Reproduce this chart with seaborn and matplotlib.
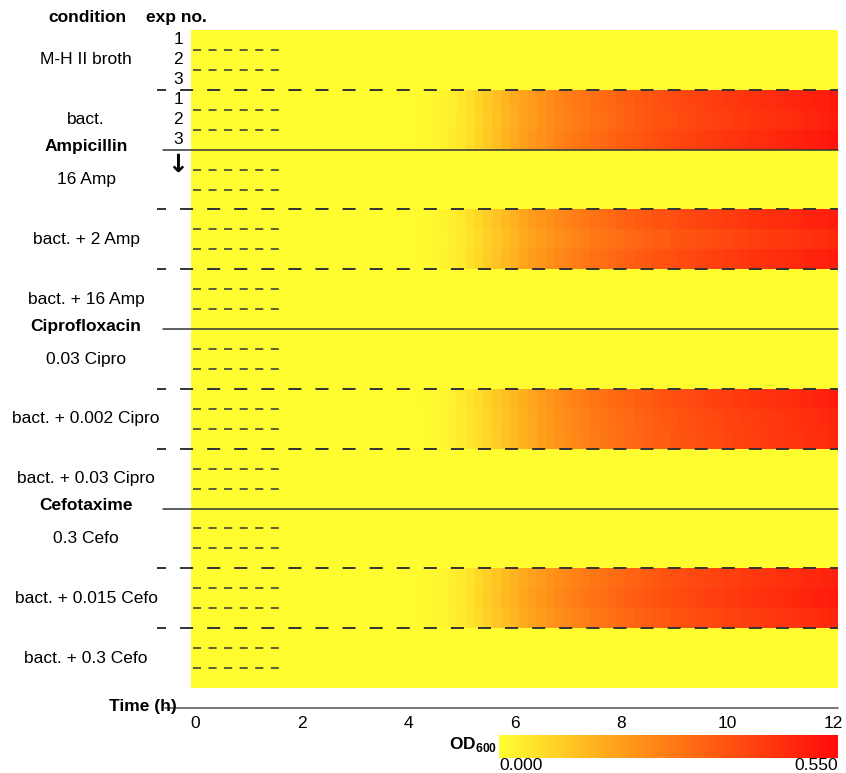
import numpy as np
import pandas as pd
import matplotlib.pyplot as plt
import seaborn as sns
from matplotlib.colors import LinearSegmentedColormap

# conditions top to bottom, three experiments (rows) each
conditions = ['M-H II broth', 'bact.', '16 Amp', 'bact. + 2 Amp', 'bact. + 16 Amp',
              '0.03 Cipro', 'bact. + 0.002 Cipro', 'bact. + 0.03 Cipro',
              '0.3 Cefo', 'bact. + 0.015 Cefo', 'bact. + 0.3 Cefo']
antibiotics = ['Ampicillin', 'Ciprofloxacin', 'Cefotaxime']
antibiotic_rows = [6, 15, 24]
time_labels = ['0', '2', '4', '6', '8', '10', '12']

# OD600 readings every 10 min, 0-4 h (shared lag phase)
lag_od = [0.005, 0.005, 0.005, 0.005, 0.005, 0.005, 0.006, 0.006, 0.006, 0.006,
          0.006, 0.006, 0.006, 0.007, 0.007, 0.007, 0.007, 0.007, 0.008, 0.008,
          0.008, 0.008, 0.008, 0.009, 0.009]
# 4:10 - 12:00 h
bact_growth = [0.010, 0.013, 0.018, 0.025, 0.036, 0.050, 0.067, 0.087, 0.108, 0.129,
               0.150, 0.170, 0.189, 0.207, 0.224, 0.240, 0.255, 0.269, 0.282, 0.294,
               0.306, 0.317, 0.328, 0.338, 0.348, 0.357, 0.366, 0.375, 0.383, 0.391,
               0.399, 0.406, 0.413, 0.420, 0.427, 0.434, 0.440, 0.447, 0.453, 0.459,
               0.465, 0.471, 0.477, 0.483, 0.489, 0.495, 0.503, 0.518]
amp_growth = [0.010, 0.012, 0.017, 0.024, 0.034, 0.047, 0.063, 0.081, 0.101, 0.121,
              0.141, 0.161, 0.180, 0.198, 0.215, 0.231, 0.246, 0.260, 0.274, 0.287,
              0.299, 0.310, 0.321, 0.331, 0.341, 0.350, 0.359, 0.368, 0.376, 0.384,
              0.392, 0.399, 0.406, 0.413, 0.420, 0.427, 0.433, 0.440, 0.446, 0.452,
              0.458, 0.464, 0.470, 0.476, 0.482, 0.488, 0.494, 0.504]
cipro_growth = [0.009, 0.011, 0.015, 0.021, 0.030, 0.041, 0.055, 0.071, 0.089, 0.108,
                0.127, 0.146, 0.165, 0.184, 0.202, 0.219, 0.235, 0.250, 0.264, 0.278,
                0.291, 0.303, 0.314, 0.325, 0.335, 0.345, 0.354, 0.363, 0.372, 0.380,
                0.388, 0.396, 0.403, 0.410, 0.417, 0.424, 0.431, 0.437, 0.443, 0.449,
                0.455, 0.461, 0.467, 0.473, 0.479, 0.485, 0.491, 0.500]
cefo_growth = [0.010, 0.012, 0.017, 0.023, 0.033, 0.046, 0.062, 0.080, 0.100, 0.120,
               0.140, 0.160, 0.179, 0.197, 0.214, 0.230, 0.245, 0.259, 0.273, 0.286,
               0.298, 0.310, 0.321, 0.332, 0.342, 0.352, 0.361, 0.370, 0.379, 0.387,
               0.395, 0.403, 0.410, 0.417, 0.424, 0.431, 0.438, 0.444, 0.450, 0.456,
               0.462, 0.468, 0.474, 0.480, 0.486, 0.492, 0.498, 0.507]

growth = {'bact.': bact_growth, 'bact. + 2 Amp': amp_growth,
          'bact. + 0.002 Cipro': cipro_growth, 'bact. + 0.015 Cefo': cefo_growth}
rep_factor = {'bact.': [1.0, 0.98, 1.02], 'bact. + 2 Amp': [1.0, 0.94, 1.0],
              'bact. + 0.002 Cipro': [1.0, 0.96, 0.95], 'bact. + 0.015 Cefo': [0.97, 1.0, 0.95]}
# flat OD of wells without growth
blank_od = {'M-H II broth': [0.004, 0.005, 0.004], '16 Amp': [0.006, 0.005, 0.006],
            'bact. + 16 Amp': [0.006, 0.007, 0.006], '0.03 Cipro': [0.005, 0.006, 0.005],
            'bact. + 0.03 Cipro': [0.007, 0.006, 0.007], '0.3 Cefo': [0.005, 0.006, 0.006],
            'bact. + 0.3 Cefo': [0.007, 0.008, 0.007]}

rows = []
for cond in conditions:
    for r in range(3):
        if cond in growth:
            rows.append(np.array(lag_od + growth[cond]) * rep_factor[cond][r])
        else:
            rows.append(np.full(len(lag_od) + 48, blank_od[cond][r]))
df = pd.DataFrame(rows)
n_rows, n_cols = df.shape

sns.set_style('white')
plt.rcParams['font.family'] = ['Liberation Sans', 'DejaVu Sans']
plt.rcParams['text.color'] = 'black'
plt.rcParams['xtick.color'] = 'black'
plt.rcParams['mathtext.fontset'] = 'custom'
plt.rcParams['mathtext.rm'] = 'Liberation Sans'
plt.rcParams['mathtext.bf'] = 'Liberation Sans:bold'
plt.rcParams['lines.scale_dashes'] = False
fs = 12.5

W, H = 846, 773
fig = plt.figure(figsize=(W / 100, H / 100), dpi=100)
ax = fig.add_axes([191 / W, 1 - 688 / H, 647 / W, 658 / H])
cax = fig.add_axes([499 / W, 1 - 758 / H, 339 / W, 23 / H])

cmap = LinearSegmentedColormap.from_list('od', ['#FFFF30', '#FFA41C', '#FF5510', '#FF0A0A'])
sns.heatmap(df, ax=ax, cmap=cmap, vmin=0, vmax=0.55, cbar_ax=cax,
            cbar_kws={'orientation': 'horizontal'},
            xticklabels=False, yticklabels=False)
cbar = ax.collections[0].colorbar
cbar.outline.set_visible(False)
cax.set_xticks([])
cax.text(0, -0.33, '0.000', transform=cax.transAxes, ha='left', va='center', fontsize=fs)
cax.text(1, -0.33, '0.550', transform=cax.transAxes, ha='right', va='center', fontsize=fs)
fig.text(497 / W, 1 - 744 / H, r'OD$_{\mathbf{600}}$', ha='right', va='center',
         fontsize=fs, fontweight='bold')

ax.set_xticks(np.arange(0, n_cols, 12) + 0.5)
ax.set_xticklabels(time_labels, fontsize=fs, rotation=0)
ax.tick_params(axis='x', length=0, pad=20)
ax.set_yticks([])

px = 647 / n_cols


def xd(p):
    return (p - 191) / px


line_col = '#333333'
# replicate separators
for g in range(len(conditions)):
    for k in (1, 2):
        ax.plot([xd(193), xd(284)], [3 * g + k] * 2, color=line_col, lw=1.1,
                linestyle=(0, (5.8, 5.4)), clip_on=False)
# separators around growth groups
for b in [3, 9, 12, 18, 21, 27, 30]:
    ax.plot([xd(157), xd(838)], [b, b], color=line_col, lw=1.4,
            linestyle=(2.9, (9.4, 10.1)), clip_on=False)
# antibiotic blocks
for b, name in zip(antibiotic_rows, antibiotics):
    ax.plot([xd(163), xd(838)], [b, b], color=line_col, lw=1.1, clip_on=False)
    ax.text(xd(86), b - 0.15, name, ha='center', va='center', fontsize=fs, fontweight='bold')

for g, cond in enumerate(conditions):
    ax.text(xd(86), 3 * g + 1.5, cond, ha='center', va='center', fontsize=fs)
for g in (0, 1):
    for r in range(3):
        ax.text(xd(178), 3 * g + r + 0.5, str(r + 1), ha='center', va='center', fontsize=fs)
ax.text(xd(178), 6.75, '\u2193', ha='center', va='center', fontsize=18, fontweight='bold',
        family='DejaVu Sans')

ax.text(xd(87), -0.65, 'condition', ha='center', va='center', fontsize=fs, fontweight='bold')
ax.text(xd(176), -0.65, 'exp no.', ha='center', va='center', fontsize=fs, fontweight='bold')

# time axis
ax.plot([xd(165), xd(838)], [n_rows + 1.0] * 2, color='#555555', lw=1.1, clip_on=False)
ax.text(xd(177), n_rows + 0.95, 'Time (h)', ha='right', va='center', fontsize=fs,
        fontweight='bold')

plt.savefig('out.png', dpi=100)
